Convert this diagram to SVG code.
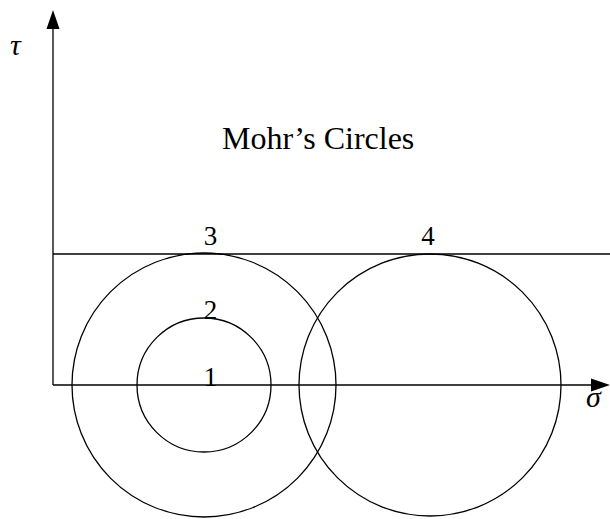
<svg xmlns="http://www.w3.org/2000/svg" width="610" height="519" viewBox="0 0 610 519">
<style>
.ln{stroke:#000;stroke-width:1.3;fill:none}
.t{font-family:"Liberation Serif","DejaVu Serif",serif;fill:#000}
.num{font-size:27px;text-anchor:middle}
.it{font-style:italic;font-size:30px}
</style>
<rect width="610" height="519" fill="#fff"/>
<g id="axes">
<line class="ln" x1="53" y1="385" x2="53" y2="28"/>
<path d="M53,10 L46.5,29 L59.5,29 z" fill="#000"/>
<line class="ln" x1="53" y1="385" x2="592" y2="385"/>
<path d="M610,385 L591,378.5 L591,391.5 z" fill="#000"/>
<text class="t it" x="10" y="55">τ</text>
<text class="t it" x="586" y="407">σ</text>
</g>
<g id="circles">
<circle id="c3" class="ln" cx="204" cy="385" r="132"/>
<circle id="c2" class="ln" cx="204" cy="385" r="67"/>
<circle id="c4" class="ln" cx="430" cy="385" r="131"/>
</g>
<g id="envelope">
<line class="ln" x1="53" y1="254" x2="610" y2="254"/>
</g>
<g id="labels">
<text class="t num" x="210.5" y="386">1</text>
<text class="t num" x="210.5" y="319">2</text>
<text class="t num" x="210.5" y="245">3</text>
<text class="t num" x="428" y="245">4</text>
<text class="t" x="222" y="149" font-size="32">Mohr’s Circles</text>
</g>
</svg>
